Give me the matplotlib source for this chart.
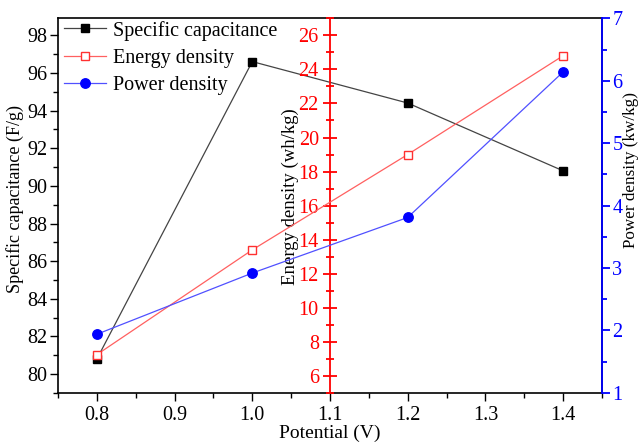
import matplotlib
matplotlib.use("Agg")
import matplotlib.pyplot as plt
from matplotlib.ticker import MultipleLocator

plt.rcParams['font.family'] = ['Liberation Serif', 'DejaVu Serif']

potential = [0.8, 1.0, 1.2, 1.4]
spec_cap = [80.8, 96.6, 94.4, 90.8]
energy = [7.25, 13.4, 19.0, 24.8]
power = [1.94, 2.92, 3.81, 6.14]

fig = plt.figure(figsize=(6.41, 4.42), dpi=100)
ax = fig.add_axes([0.0905, 0.111, 0.8485, 0.8476])
ax2 = ax.twinx()
ax3 = ax.twinx()

fs = 14.5
l1, = ax.plot(potential, spec_cap, color='#444444', lw=0.9, marker='s', ms=6,
              mfc='black', mec='black', label='Specific capacitance', zorder=3)
l2, = ax2.plot(potential, energy, color='#ff6060', lw=0.9, marker='s', ms=6,
               mfc='white', mec='#ff3030', mew=1.0, label='Energy density', zorder=3)
l3, = ax3.plot(potential, power, color='#5050ff', lw=0.9, marker='o', ms=6.8,
               mfc='#0000ff', mec='#0000ff', label='Power density', zorder=3)

# main axis
ax.set_xlim(0.75, 1.45)
ax.set_ylim(79, 98.9)
ax.xaxis.set_minor_locator(MultipleLocator(0.05))
ax.yaxis.set_minor_locator(MultipleLocator(1))
ax.set_xticks([0.8, 0.9, 1.0, 1.1, 1.2, 1.3, 1.4])
ax.set_xticklabels(['0.8', '0.9', '1.0', '1.1', '1.2', '1.3', '1.4'])
ax.set_yticks(range(80, 99, 2))
ax.tick_params(axis='both', which='major', labelsize=fs, direction='out', length=6, width=1)
ax.tick_params(axis='both', which='minor', direction='out', length=3.5, width=1)
ax.tick_params(axis='y', which='major', pad=1.5)
ax.tick_params(axis='y', right=False, which='both')
ax.tick_params(axis='x', top=False, which='both')
ax.set_xlabel('Potential (V)', fontsize=14, labelpad=0)
ax.set_ylabel('Specific capacitance (F/g)', fontsize=13)
ax.yaxis.set_label_coords(-0.062, 0.517)
for s in ax.spines.values():
    s.set_linewidth(1.2)

# red middle axis
ax2.set_ylim(5, 27)
ax2.yaxis.set_minor_locator(MultipleLocator(1))
ax2.set_yticks(range(6, 27, 2))
for k in ['right', 'top', 'bottom']:
    ax2.spines[k].set_visible(False)
ax2.spines['left'].set_visible(True)
ax2.spines['left'].set_position(('data', 1.1))
ax2.spines['left'].set_color('#ff0000')
ax2.spines['left'].set_linewidth(1.3)
ax2.yaxis.tick_left()
ax2.yaxis.set_label_position('left')
ax2.tick_params(axis='y', which='major', direction='inout', length=10, width=1.3,
                colors='#ff0000', labelsize=fs, pad=3)
ax2.tick_params(axis='y', which='minor', direction='inout', length=5.5, width=1.3,
                colors='#ff0000')
ax2.set_ylabel('Energy density (wh/kg)', fontsize=13.5, color='black')
ax2.yaxis.set_label_coords(0.443, 0.524)

# blue right axis
ax3.set_ylim(1, 7)
ax3.yaxis.set_major_locator(MultipleLocator(1))
ax3.yaxis.set_minor_locator(MultipleLocator(0.5))
for k in ['left', 'top', 'bottom']:
    ax3.spines[k].set_visible(False)
ax3.spines['right'].set_color('#0000ff')
ax3.spines['right'].set_linewidth(1.3)
ax3.tick_params(axis='y', which='major', direction='out', length=6, width=1.3,
                colors='#0000ff', labelsize=fs, pad=1.5)
ax3.tick_params(axis='y', which='minor', direction='out', length=3.5, width=1.3,
                colors='#0000ff')
ax3.set_ylabel('Power density (kw/kg)', fontsize=12.3, color='black')
ax3.yaxis.set_label_coords(1.039, 0.595)

leg = ax3.legend(handles=[l1, l2, l3], loc='upper left', frameon=False, fontsize=fs,
                 handlelength=2.1, handletextpad=0.35, labelspacing=0.4,
                 borderaxespad=0.0, borderpad=0.3, bbox_to_anchor=(0.0, 1.01))

fig.savefig('out.png', dpi=100)
